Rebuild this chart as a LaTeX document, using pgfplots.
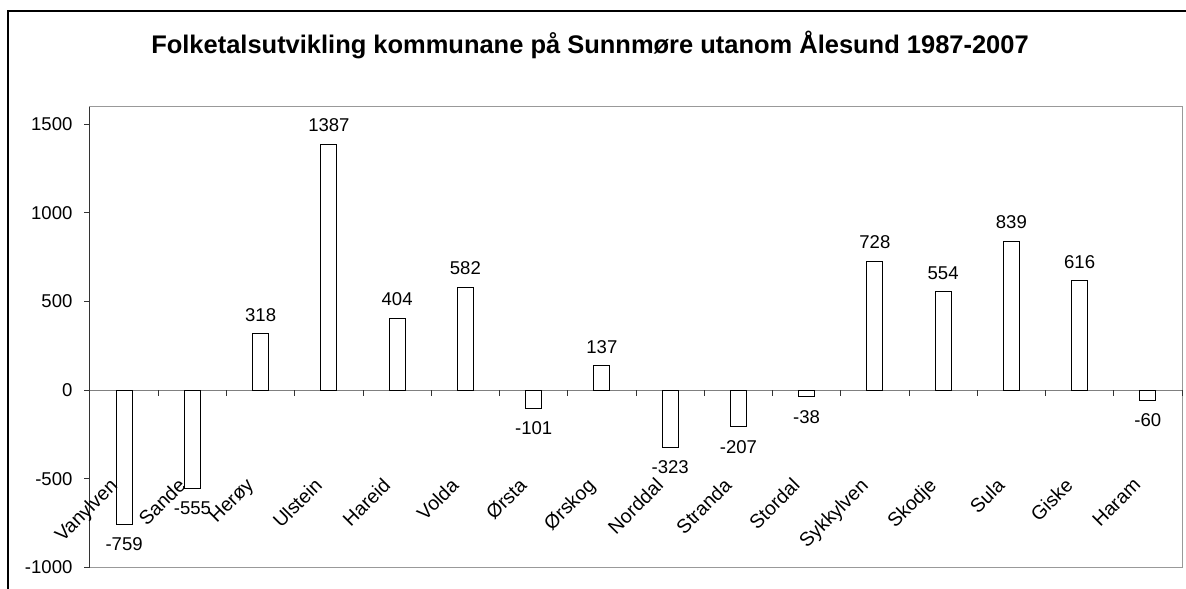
\documentclass[border=0pt]{standalone}
\usepackage{pgfplots}
\pgfplotsset{compat=1.18}
\usepackage{pgfplotstable}
\usepackage{fontspec}
\setmainfont{Liberation Sans}
\newcommand{\lbl}{\fontsize{13.9}{16}\selectfont}
\newcommand{\catf}{\fontsize{14.6}{17}\selectfont}
\pgfplotstableread{
x y lab
2 318 318
3 1387 1387
4 404 404
5 582 582
7 137 137
11 728 728
12 554 554
13 839 839
14 616 616
}\pos
\pgfplotstableread{
x y lab
0 -759 -759
1 -555 -555
6 -101 -101
8 -323 -323
9 -207 -207
10 -38 -38
15 -60 -60
}\neg
\begin{document}
\begin{tikzpicture}
\path[use as bounding box] (0,0) rectangle (889.5pt,-441.75pt);
\fill[white] (0,0) rectangle (889.5pt,-441.75pt);
\draw[line width=1.5pt] (5.8pt,-460pt) -- (5.8pt,-8.25pt) -- (910pt,-8.25pt);
\node[anchor=base, font=\fontsize{19.1}{23}\selectfont\bfseries] at (442.5pt,-40pt) {Folketalsutvikling kommunane på Sunnmøre utanom Ålesund 1987-2007};
\begin{axis}[
  at={(67.5pt,-425.625pt)}, anchor=south west,
  scale only axis, width=819pt, height=345.75pt,
  xmin=-0.5, xmax=15.5, ymin=-1000, ymax=1600,
  xtick=\empty,
  ytick={-1000,-500,0,500,1000,1500},
  yticklabels={-1000,-500,0,500,1000,1500},
  ytick pos=left,
  ytick align=outside, major tick length=4.5pt,
  tick style={black!80, line width=0.75pt},
  yticklabel style={anchor=east, inner sep=0pt, xshift=-8.5pt, font=\lbl},
  axis line style={black!40, line width=0.75pt},
  clip=false,
  ybar, bar width=12pt,
]
\draw[black!50, line width=0.75pt] (axis cs:-0.5,0) -- (axis cs:15.5,0);
\draw[black!80, line width=0.75pt] (rel axis cs:0,0) -- (rel axis cs:0,1);
\pgfplotsinvokeforeach{0.5,1.5,2.5,3.5,4.5,5.5,6.5,7.5,8.5,9.5,10.5,11.5,12.5,13.5,14.5,15.5}{
  \draw[black!80, line width=0.75pt] (axis cs:#1,0) -- ([yshift=-4.5pt]axis cs:#1,0);
}
\addplot[ybar, bar shift=0pt, fill=white, draw=black, line width=0.75pt,
  nodes near coords, point meta=explicit symbolic, nodes near coords align={south},
  every node near coord/.append style={anchor=south, inner ysep=9pt, inner xsep=0pt, font=\lbl, black}]
  table[x=x, y=y, meta=lab] {\pos};
\addplot[ybar, bar shift=0pt, fill=white, draw=black, line width=0.75pt,
  nodes near coords, point meta=explicit symbolic, nodes near coords align={north},
  every node near coord/.append style={anchor=north, inner ysep=9.5pt, inner xsep=0pt, font=\lbl, black}]
  table[x=x, y=y, meta=lab] {\neg};
\tikzset{cat/.style={rotate=45, anchor=north east, inner sep=0pt, font=\catf}}
\node[cat] at ([xshift=-11.75pt]axis cs:0,-487) {Vanylven};
\node[cat] at ([xshift=-11.75pt]axis cs:1,-487) {Sande};
\node[cat] at ([xshift=-11.75pt]axis cs:2,-487) {Herøy};
\node[cat] at ([xshift=-11.75pt]axis cs:3,-487) {Ulstein};
\node[cat] at ([xshift=-11.75pt]axis cs:4,-487) {Hareid};
\node[cat] at ([xshift=-11.75pt]axis cs:5,-487) {Volda};
\node[cat] at ([xshift=-11.75pt]axis cs:6,-487) {Ørsta};
\node[cat] at ([xshift=-11.75pt]axis cs:7,-487) {Ørskog};
\node[cat] at ([xshift=-11.75pt]axis cs:8,-487) {Norddal};
\node[cat] at ([xshift=-11.75pt]axis cs:9,-487) {Stranda};
\node[cat] at ([xshift=-11.75pt]axis cs:10,-487) {Stordal};
\node[cat] at ([xshift=-11.75pt]axis cs:11,-487) {Sykkylven};
\node[cat] at ([xshift=-11.75pt]axis cs:12,-487) {Skodje};
\node[cat] at ([xshift=-11.75pt]axis cs:13,-487) {Sula};
\node[cat] at ([xshift=-11.75pt]axis cs:14,-487) {Giske};
\node[cat] at ([xshift=-11.75pt]axis cs:15,-487) {Haram};
\end{axis}
\end{tikzpicture}
\end{document}
